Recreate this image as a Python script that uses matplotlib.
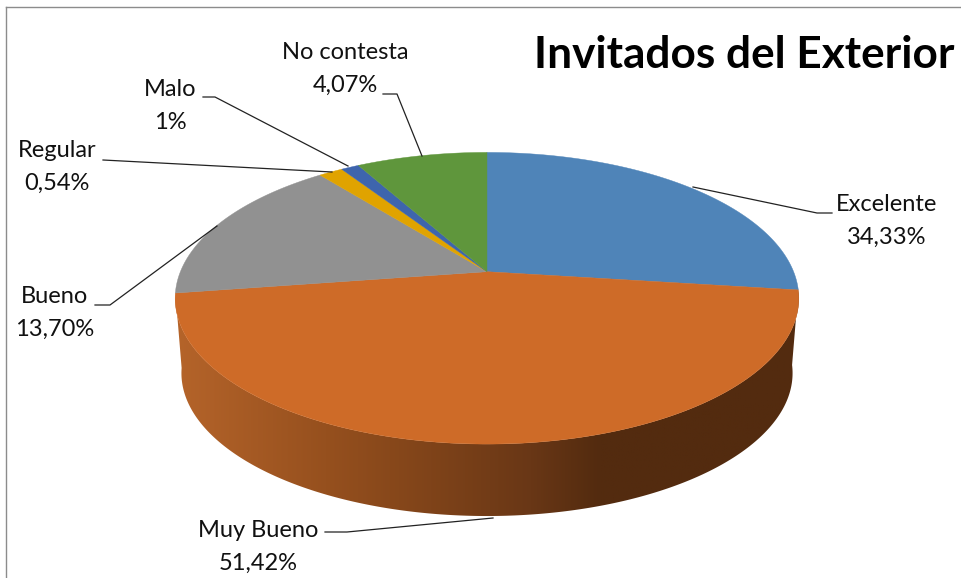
import numpy as np
import matplotlib
matplotlib.use('Agg')
import matplotlib.pyplot as plt
from matplotlib.colors import LinearSegmentedColormap
from matplotlib.patches import Polygon

OUTFILE = 'out.png'

# printed labels (they do not add up to the drawn slices in the original)
categories = ['Excelente', 'Muy Bueno', 'Bueno', 'Regular', 'Malo', 'No contesta']
printed = ['34,33%', '51,42%', '13,70%', '0,54%', '1%', '4,07%']
# slice sizes as drawn
shares = [27.0, 45.6, 16.65, 1.49, 1.11, 8.08]
colors = ['#4f84b8', '#ce6b28', '#919191', '#e0a300', '#3e65ad', '#5f963c']

# pie geometry, pixels
CX, CY = 487.0, 271.7
A, B, K = 306.6, 141.0, 0.182
DEPTH, SHRINK = 75.4, 0.98

label_pos = [(887, 221), (258, 547), (55, 313), (57, 167), (170, 106), (345, 69)]
leaders = [
    [(693, 187), (817, 213), (832, 213)],
    [(325, 532), (347, 532), (493, 518)],
    [(95, 305), (110, 305), (217, 226)],
    [(103, 160), (332, 172)],
    [(203, 97), (215, 97), (348, 166)],
    [(383, 94), (397, 94), (422, 156)],
]

side_stops = [(0.0, '#b5642a'), (0.24, '#96501e'), (0.41, '#7f4319'),
              (0.57, '#693716'), (0.68, '#532b0f'), (1.0, '#532b0f')]


def rim(t0, t1, bottom=False):
    # t is degrees clockwise from the top of the pie
    t = np.radians(np.linspace(t0, t1, max(int(abs(t1 - t0) * 2), 2)))
    u, v = np.sin(t), -np.cos(t)
    w = 1 - K * v
    if bottom:
        return np.column_stack([CX + SHRINK * A * u / w, CY + DEPTH + SHRINK * B * v / w])
    return np.column_stack([CX + A * u / w, CY + B * v / w])


def plotpie():
    fig = plt.figure(figsize=(9.62, 5.78), dpi=100)
    ax = fig.add_axes([0, 0, 1, 1])
    ax.set_xlim(0, 962)
    ax.set_ylim(578, 0)
    ax.axis('off')

    # chart frame, open at right and bottom
    ax.plot([6.5, 6.5], [578, 6.5], color='#8c8c8c', lw=1.0)
    ax.plot([6.5, 962], [6.5, 6.5], color='#8c8c8c', lw=1.0)

    edges = np.cumsum([0] + shares) * 360.0 / sum(shares)

    # side wall, only the front slice shows it
    top = rim(edges[1], edges[2])
    low = rim(edges[1], edges[2], bottom=True)
    wall = Polygon(np.vstack([top, low[::-1]]), closed=True, fc='none', ec='none')
    ax.add_patch(wall)
    cmap = LinearSegmentedColormap.from_list('side', side_stops)
    xleft, xright = 175, 800
    img = ax.imshow(np.linspace(0, 1, 256).reshape(1, -1), cmap=cmap, aspect='auto',
                    extent=[xleft, xright, 525, 285], zorder=1, vmin=0, vmax=1)
    img.set_clip_path(wall)
    ax.set_xlim(0, 962)
    ax.set_ylim(578, 0)

    # top face
    for i in range(len(shares)):
        pts = np.vstack([[CX, CY], rim(edges[i], edges[i + 1])])
        ax.add_patch(Polygon(pts, closed=True, fc=colors[i], ec=colors[i], lw=0.3, zorder=2))

    for line in leaders:
        xs, ys = zip(*line)
        ax.plot(xs, ys, color='#222222', lw=0.9, zorder=3)

    for name, val, pos in zip(categories, printed, label_pos):
        ax.text(pos[0], pos[1], name + '\n' + val, ha='center', va='center', fontsize=17,
                family='Lato', color='#111111', linespacing=1.7, zorder=4)

    ax.text(955, 55, 'Invitados del Exterior', ha='right', va='center', fontsize=31.8,
            family='Lato', fontweight='bold', color='black', zorder=4)

    fig.savefig(OUTFILE, dpi=100, facecolor='white')


if __name__ == "__main__":
    plotpie()
